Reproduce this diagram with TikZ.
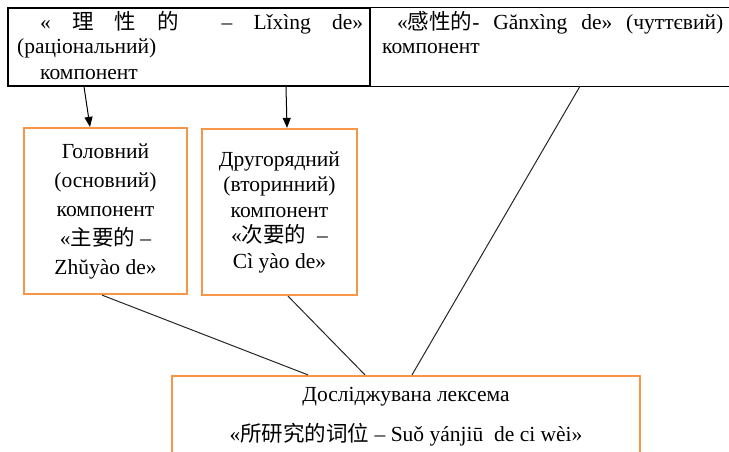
\documentclass[tikz,border=0pt]{standalone}
\usepackage{fontspec}
\setmainfont{Liberation Serif}
\newfontfamily\cjk{Noto Sans CJK SC}
\newcommand{\zh}[1]{{\cjk #1}}
\usetikzlibrary{arrows.meta}
\definecolor{boxorange}{HTML}{F79646}
\tikzset{
  orangebox/.style={draw=boxorange, line width=2.2pt, inner sep=0pt, align=center, font=\fontsize{21.5}{29}\selectfont},
  blackbox/.style={draw=black, line width=1.3pt, inner sep=0pt},
  txt/.style={inner sep=0pt, anchor=base west, font=\fontsize{21.5}{24}\selectfont},
  arr/.style={draw=black, line width=1pt, -{Triangle[width=8pt,length=10pt]}},
  link/.style={draw=black!85, line width=1pt},
}
\begin{document}
\begin{tikzpicture}[x=1pt,y=-1pt]
\clip (0,0) rectangle (729,451);
\fill[white] (0,0) rectangle (729,451);
% top boxes
\node[blackbox, minimum width=362pt, minimum height=78pt] (topL) at (189,47) {};
\node[inner sep=0pt, minimum width=360pt, minimum height=78pt] (topR) at (550,47) {};
\draw[black, line width=1.3pt] (topR.north west) -- (topR.north east);
\draw[black, line width=1.3pt] (topR.south west) -- (topR.south east);
% top texts
\node[txt] (tl1) at (40,29) {\hbox to 323pt{«\hfill\zh{理}\hfill\zh{性}\hfill\zh{的}\hfill\hfill–\hfill Lǐxìng\hfill de»}};
\node[txt] (tl2) at (17,53.5) {(раціональний)};
\node[txt] (tl3) at (40,79.5) {компонент};
\node[txt] (tr1) at (397,29) {\hbox to 326pt{«\zh{感性的}-\hfill Gănxìng\hfill de»\hfill(чуттєвий)}};
\node[txt] (tr2) at (382,53.5) {компонент};
% middle boxes
\node[orangebox, minimum width=163pt, minimum height=166pt] (b1) at (105.5,211)
  {Головний\\(основний)\\компонент\\«\zh{主要的} –\\Zhŭyào de»};
\node[orangebox, minimum width=155pt, minimum height=166pt, font=\fontsize{21.5}{25.5}\selectfont] (b2) at (279.5,212)
  {Другорядний\\(вторинний)\\компонент\\«\zh{次要的} \ –\\Cì yào de»};
% bottom box
\node[orangebox, minimum width=468pt, minimum height=82pt, font=\fontsize{21.5}{40}\selectfont] (b3) at (406,417)
  {Досліджувана лексема\\«\zh{所研究的词位} – Suǒ yánjiū \ de ci wèi»};
% connectors
\draw[arr] ([xshift=-105pt]topL.south) -- ([xshift=-15.5pt]b1.north);
\draw[arr] ([xshift=97pt]topL.south) -- ([xshift=7.5pt]b2.north);
\draw[link] ([xshift=-3.5pt]b1.south) -- ([xshift=-98pt]b3.north);
\draw[link] ([xshift=8.5pt]b2.south) -- ([xshift=-41pt]b3.north);
\draw[link] ([xshift=30pt]topR.south) -- ([xshift=6pt]b3.north);
\end{tikzpicture}
\end{document}
